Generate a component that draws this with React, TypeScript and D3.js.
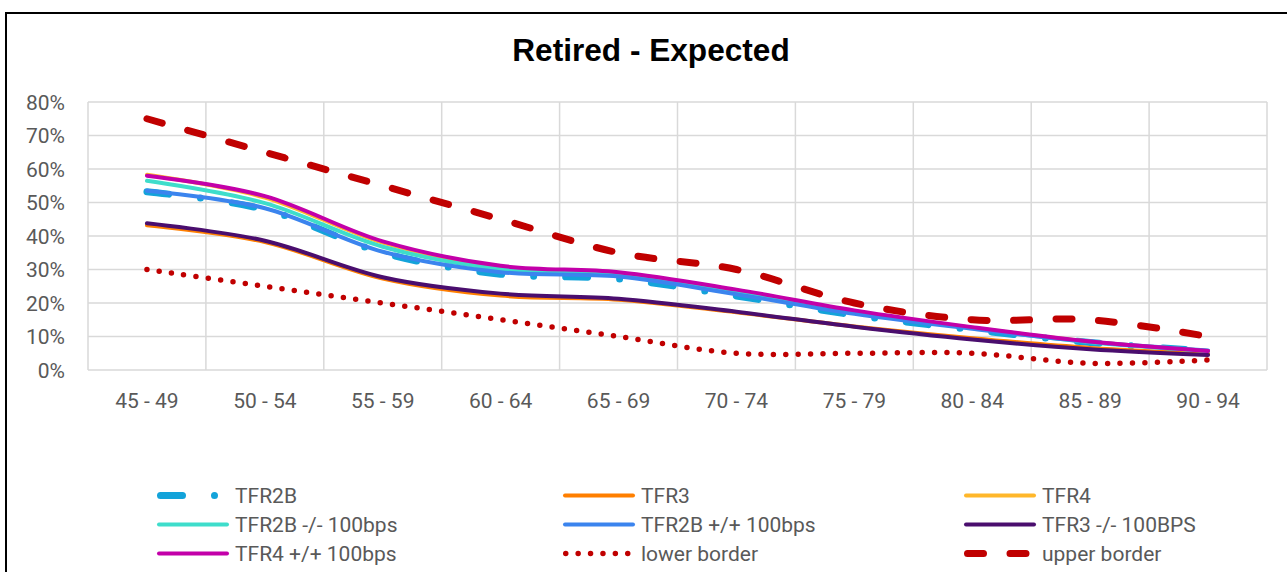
import React from 'react';
import * as d3 from 'd3';

// Age bands on the category axis
const categories = ['45 - 49', '50 - 54', '55 - 59', '60 - 64', '65 - 69', '70 - 74', '75 - 79', '80 - 84', '85 - 89', '90 - 94'];
const yTickValues = [0, 10, 20, 30, 40, 50, 60, 70, 80];

// Retired minus expected, in percent
const tfr2b = [53.2, 47.9, 35.0, 28.6, 27.2, 22.1, 16.4, 12.0, 8.2, 5.7];
const tfr3 = [43.2, 38.2, 27.3, 22.2, 21.0, 17.2, 13.0, 9.5, 6.6, 4.8];
const tfr4 = [58.3, 51.5, 38.0, 30.8, 28.8, 23.6, 17.4, 12.6, 8.4, 5.7];
const tfr2bMinus100 = [56.5, 49.8, 36.8, 30.1, 28.6, 23.3, 17.3, 12.5, 8.3, 5.7];
const tfr2bPlus100 = [53.5, 48.3, 35.3, 29.2, 27.9, 22.6, 16.8, 12.3, 8.4, 5.8];
const tfr3Minus100 = [43.8, 38.6, 27.7, 22.8, 21.3, 17.4, 12.9, 9.1, 6.2, 4.5];
const tfr4Plus100 = [58.0, 51.9, 38.4, 31.1, 29.2, 24.0, 17.8, 12.8, 8.5, 5.7];
const lowerBorder = [30, 25, 20, 15, 10, 5, 5, 5, 2, 3];
const upperBorder = [75, 65, 55, 45, 35, 30, 20, 15, 15, 10];

type Series = {
  name: string;
  values: number[];
  color: string;
  width: number;
  dash?: string;
};

const series: Series[] = [
  { name: 'TFR2B', values: tfr2b, color: '#13A3DA', width: 7, dash: '22 32 0 32' },
  { name: 'TFR3', values: tfr3, color: '#FF7F00', width: 4 },
  { name: 'TFR4', values: tfr4, color: '#FFB72A', width: 4 },
  { name: 'TFR2B -/- 100bps', values: tfr2bMinus100, color: '#3EDDCB', width: 4 },
  { name: 'TFR2B +/+ 100bps', values: tfr2bPlus100, color: '#3B84EE', width: 4 },
  { name: 'TFR3 -/- 100BPS', values: tfr3Minus100, color: '#4A0E6E', width: 4 },
  { name: 'TFR4 +/+ 100bps', values: tfr4Plus100, color: '#C300A9', width: 4 },
  { name: 'lower border', values: lowerBorder, color: '#C00000', width: 5.5, dash: '0 12.4' },
  { name: 'upper border', values: upperBorder, color: '#C00000', width: 7, dash: '16 26.5' },
];

const W = 1287;
const H = 572;
const plot = { left: 88, right: 1267, top: 102, bottom: 370 };
const textColor = '#595959';
const gridColor = '#D9D9D9';
const font = 'Roboto, "Noto Sans", sans-serif';

export default function App() {
  const x = d3.scaleBand<string>().domain(categories).range([plot.left, plot.right]).padding(0);
  const y = d3.scaleLinear().domain([0, 80]).range([plot.bottom, plot.top]);
  const cx = (c: string) => (x(c) ?? 0) + x.bandwidth() / 2;

  const line = d3
    .line<number>()
    .x((_, i) => cx(categories[i]))
    .y((v) => y(v))
    .curve(d3.curveCatmullRom.alpha(0));

  const boundaries = d3.range(categories.length + 1).map((i) => plot.left + i * x.bandwidth());

  const legendCols = [157, 563, 964];
  const legendRows = [495.5, 524.5, 553.5];
  const legendSymbolLen = 72;

  return (
    <svg
      width={W}
      height={H}
      style={{ position: 'absolute', left: 0, top: 0, display: 'block', background: '#fff' }}
    >
      <rect x={0} y={0} width={W} height={H} fill="#fff" />
      <rect x={6} y={13} width={W + 20} height={H + 20} fill="#fff" stroke="#000" strokeWidth={2} />

      <text
        x={651}
        y={61}
        textAnchor="middle"
        fontFamily='"Liberation Sans", Arial, sans-serif'
        fontWeight="bold"
        fontSize={31.6}
        fill="#000"
      >
        Retired - Expected
      </text>

      {/* gridlines */}
      <g stroke={gridColor} strokeWidth={1.5} fill="none">
        {yTickValues.map((t) => (
          <line key={'h' + t} x1={plot.left} x2={plot.right} y1={y(t)} y2={y(t)} />
        ))}
        {boundaries.map((bx, i) => (
          <line key={'v' + i} x1={bx} x2={bx} y1={plot.top} y2={plot.bottom} />
        ))}
      </g>

      {/* axis labels */}
      <g fontFamily={font} fontSize={21} fill={textColor}>
        {yTickValues.map((t) => (
          <text key={'yl' + t} x={65} y={y(t) + 7.5} textAnchor="end">
            {d3.format('.0%')(t / 100)}
          </text>
        ))}
        {categories.map((c) => (
          <text key={'xl' + c} x={cx(c)} y={408} textAnchor="middle">
            {c}
          </text>
        ))}
      </g>

      {/* series */}
      <g fill="none" strokeLinejoin="round" strokeLinecap="round">
        {series.map((s) => (
          <path
            key={s.name}
            d={line(s.values) ?? ''}
            stroke={s.color}
            strokeWidth={s.width}
            strokeDasharray={s.dash}
          />
        ))}
      </g>

      {/* legend */}
      <g fontFamily={font} fontSize={21} fill={textColor}>
        {series.map((s, i) => {
          const col = i % 3;
          const row = Math.floor(i / 3);
          const lx = legendCols[col];
          const ly = legendRows[row];
          const inset = s.width / 2;
          return (
            <g key={'lg' + s.name}>
              <line
                x1={lx + inset}
                x2={lx + legendSymbolLen - inset}
                y1={ly}
                y2={ly}
                stroke={s.color}
                strokeWidth={s.dash ? s.width : 4}
                strokeDasharray={s.dash}
                strokeLinecap="round"
              />
              <text x={lx + legendSymbolLen + 6} y={ly + 7.5}>
                {s.name}
              </text>
            </g>
          );
        })}
      </g>
    </svg>
  );
}
